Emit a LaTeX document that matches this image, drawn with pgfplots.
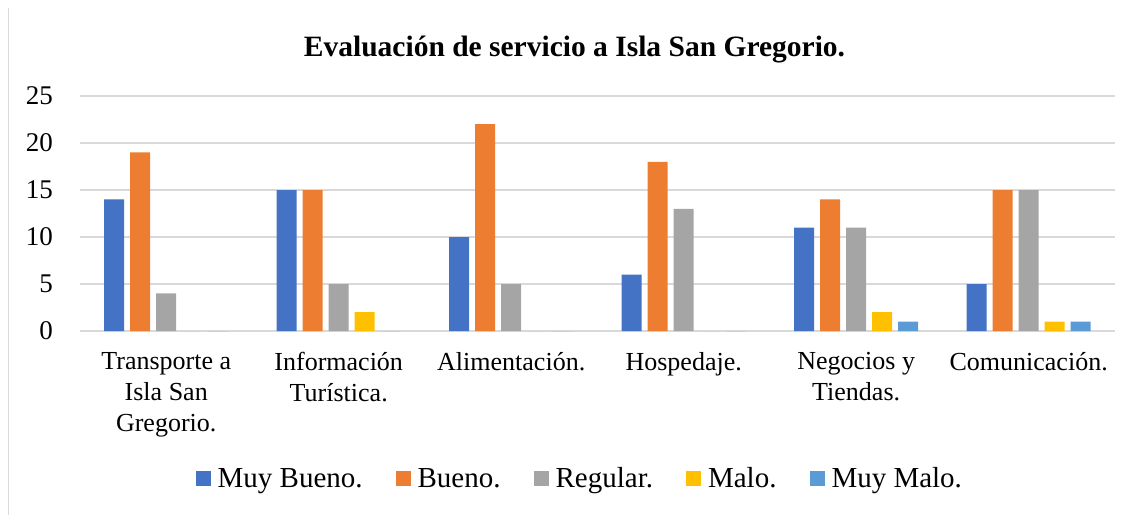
\documentclass[border=0pt]{standalone}
\usepackage{pgfplots}
\pgfplotsset{compat=1.18}
\usepackage{fontspec}
\setmainfont{Liberation Serif}
\definecolor{muybueno}{HTML}{4472C4}
\definecolor{bueno}{HTML}{ED7D31}
\definecolor{regular}{HTML}{A5A5A5}
\definecolor{malo}{HTML}{FFC000}
\definecolor{muymalo}{HTML}{5B9BD5}
\definecolor{gridgray}{HTML}{D9D9D9}

\pgfplotsset{
  sq/.style={fill=#1, draw=none,
    legend image code/.code={\fill[#1] (0pt,-7.5pt) rectangle (15pt,7.5pt);}},
}

\begin{document}
\begin{tikzpicture}[x=1pt,y=1pt]
\path[use as bounding box] (0,0) rectangle (1136,-515);
\draw[gridgray, line width=1.5pt] (8.5,-8) -- (8.5,-515);
\node[anchor=base, font=\bfseries\fontsize{29.5}{34}\selectfont] at (574.5,-56)
  {Evaluación de servicio a Isla San Gregorio.};
\begin{axis}[
  at={(80pt,-331pt)}, anchor=south west,
  scale only axis, width=1035pt, height=235pt,
  xmin=-0.5, xmax=5.5, ymin=0, ymax=25,
  ybar=6pt, bar width=20pt,
  xtick={0,...,5},
  xticklabels={{Transporte a\\Isla San\\Gregorio.}, {Información\\Turística.},
    {Alimentación.}, {Hospedaje.}, {Negocios y\\Tiendas.}, {Comunicación.}},
  xticklabel style={align=center, anchor=north, inner sep=0pt, yshift=-21pt,
    font=\fontsize{26}{31}\selectfont},
  ytick={0,5,...,25},
  yticklabel style={anchor=east, inner sep=0pt, xshift=-27pt,
    font=\fontsize{27}{32}\selectfont},
  /pgf/number format/assume math mode=true,
  ymajorgrids, grid style={draw=gridgray, line width=1.3pt},
  axis line style={draw=none},
  major tick length=0pt,
  legend columns=5,
  legend cell align=left,
  legend style={draw=none, fill=none, at={(0.482,-0.628)}, anchor=center,
    font=\fontsize{29}{34}\selectfont, inner sep=0pt,
    nodes={inner sep=0pt},
    /tikz/every odd column/.append style={column sep=7pt},
    /tikz/every even column/.append style={column sep=33pt}},
]
\addplot[sq=muybueno] coordinates {(0,14) (1,15) (2,10) (3,6) (4,11) (5,5)};
\addplot[sq=bueno] coordinates {(0,19) (1,15) (2,22) (3,18) (4,14) (5,15)};
\addplot[sq=regular] coordinates {(0,4) (1,5) (2,5) (3,13) (4,11) (5,15)};
\addplot[sq=malo] coordinates {(0,0) (1,2) (2,0) (3,0) (4,2) (5,1)};
\addplot[sq=muymalo] coordinates {(0,0) (1,0) (2,0) (3,0) (4,1) (5,1)};
\legend{Muy Bueno., Bueno., Regular., Malo., Muy Malo.}
\end{axis}
\end{tikzpicture}
\end{document}
